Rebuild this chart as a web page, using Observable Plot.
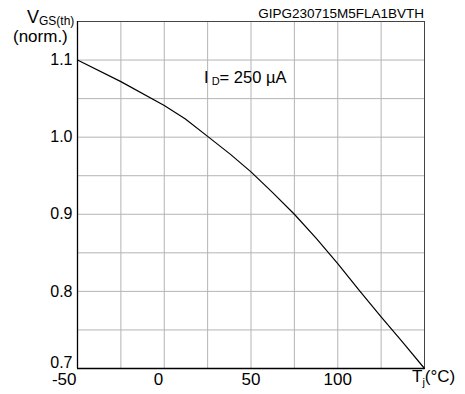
<!DOCTYPE html>
<html><head><meta charset="utf-8">
<script src="https://cdn.jsdelivr.net/npm/d3@7"></script>
<script src="https://cdn.jsdelivr.net/npm/@observablehq/plot@0.6"></script>
<style>body{margin:0;background:#fff} #chart{width:465px;height:394px}</style>
</head><body><div id="chart"></div>
<script>
const temps = [-50, -25, 0, 12, 25, 38, 50, 62.5, 75, 87.5, 100, 112.5, 125, 137.5, 150];
const vgs = [1.100, 1.072, 1.041, 1.024, 1.001, 0.978, 0.955, 0.928, 0.900, 0.869, 0.836, 0.801, 0.767, 0.734, 0.700];
const xGrid = [-25, 0, 25, 50, 75, 100, 125];
const yGrid = [0.75, 0.8, 0.85, 0.9, 0.95, 1.0, 1.05, 1.1];
const xTicksEnd = [-50, 0];
const xTicksMid = [50, 100];
const yTicks = [0.8, 0.9, 1.0, 1.1];
const yTickLow = [0.7];
const docCode = "GIPG230715M5FLA1BVTH";
const data = temps.map((t, i) => ({t, v: vgs[i]}));
const font = "'Liberation Sans', Arial, sans-serif";

const plot = Plot.plot({
  width: 465, height: 394,
  marginLeft: 77, marginRight: 41, marginTop: 21, marginBottom: 26,
  x: {domain: [-50, 150], label: null},
  y: {domain: [0.7, 1.15], label: null},
  style: {fontFamily: font, background: "#fff", color: "#000"},
  marks: [
    Plot.ruleX(xGrid, {stroke: "#b4b4b4", strokeWidth: 1}),
    Plot.ruleY(yGrid, {stroke: "#b4b4b4", strokeWidth: 1}),
    Plot.ruleX([150], {stroke: "#444"}),
    Plot.ruleY([1.15], {stroke: "#444"}),
    Plot.ruleX([-50], {stroke: "#000", strokeWidth: 1.3}),
    Plot.ruleY([0.7], {stroke: "#000", strokeWidth: 1.3}),
    Plot.line(data, {x: "t", y: "v", stroke: "#000", strokeWidth: 1.2}),
    Plot.axisY(yTicks, {tickSize: 0, tickPadding: 5, tickFormat: d3.format(".1f"), fontSize: 16, label: null}),
    Plot.axisY(yTickLow, {tickSize: 0, tickPadding: 5, tickFormat: d3.format(".1f"), fontSize: 16, dy: -6, label: null}),
    Plot.axisX(xTicksEnd, {tickSize: 0, tickPadding: 4, textAnchor: "end", dx: -1, tickFormat: d => String(d), fontSize: 17, label: null}),
    Plot.axisX(xTicksMid, {tickSize: 0, tickPadding: 4, tickFormat: d => String(d), fontSize: 17, label: null})
  ]
});
document.getElementById("chart").append(plot);

const svg = d3.select(plot);
const g = svg.append("g").attr("font-family", font).attr("fill", "#000").attr("text-anchor", "start");
// Y title
const t1 = g.append("text").attr("x", 27).attr("y", 23).attr("font-size", 18);
t1.append("tspan").text("V");
t1.append("tspan").attr("font-size", 12).attr("dy", 2).text("GS(th)");
g.append("text").attr("x", 13).attr("y", 42).attr("font-size", 17).text("(norm.)");
// X title
const t2 = g.append("text").attr("x", 412).attr("y", 382).attr("font-size", 17);
t2.append("tspan").text("T");
t2.append("tspan").attr("font-size", 11).attr("dy", 4).text("j");
t2.append("tspan").attr("dy", -4).text("(°C)");
// document code
g.append("text").attr("x", 424).attr("y", 18).attr("text-anchor", "end").attr("font-size", 13.5).text(docCode);
// condition label
const t3 = g.append("text").attr("x", 204).attr("y", 83).attr("font-size", 16.5);
t3.append("tspan").text("I");
t3.append("tspan").attr("font-size", 11).attr("dy", 2).text(" D");
t3.append("tspan").attr("dy", -2).text("= 250 µA");
</script>
</body></html>
